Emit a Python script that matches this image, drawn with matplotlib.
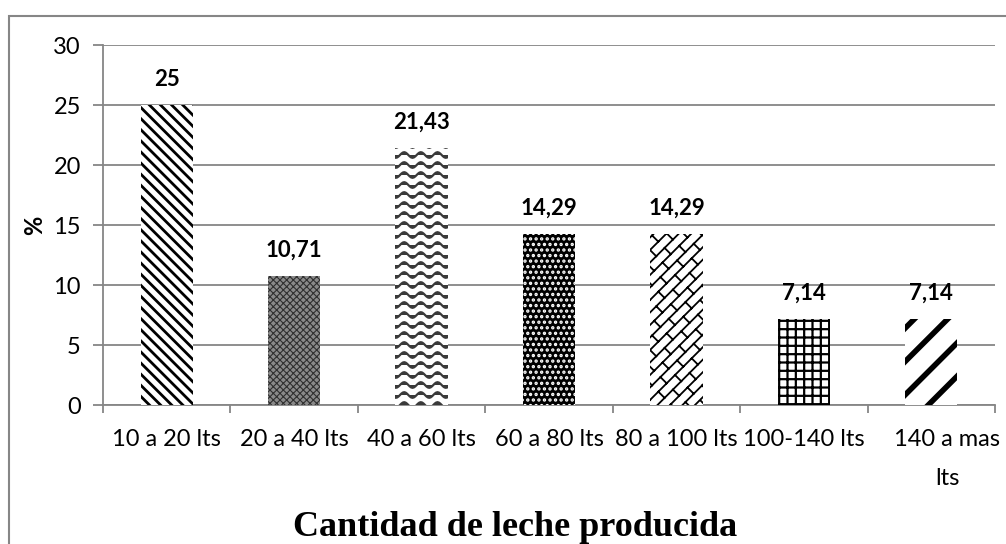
import warnings
import numpy as np
import matplotlib
matplotlib.use('Agg')
import matplotlib.pyplot as plt
import matplotlib.hatch as mhatch
from matplotlib.path import Path
from matplotlib.patches import Rectangle
from matplotlib.transforms import ScaledTranslation

warnings.filterwarnings('ignore')

# data
categorias = ['10 a 20 lts', '20 a 40 lts', '40 a 60 lts', '60 a 80 lts',
              '80 a 100 lts', '100-140 lts', '140 a mas\nlts']
porcentaje = [25, 10.71, 21.43, 14.29, 14.29, 7.14, 7.14]
etiquetas = ['25', '10,71', '21,43', '14,29', '14,29', '7,14', '7,14']
yticks = [0, 5, 10, 15, 20, 25, 30]


# extra hatch patterns: '~' wavy lines, 'b' diagonal bricks
class WaveHatch(mhatch.HatchPatternBase):
    def __init__(self, hatch, density):
        self.num_lines = 10 * hatch.count('~')
        self.pts = 73
        self.num_vertices = self.num_lines * self.pts

    def set_vertices_and_codes(self, vertices, codes):
        t = np.linspace(0, 1, self.pts)
        steps, size = np.linspace(0, 1, self.num_lines, False, retstep=True)
        steps += size / 2
        for i, s in enumerate(steps):
            sl = slice(i * self.pts, (i + 1) * self.pts)
            vertices[sl, 0] = t
            vertices[sl, 1] = s + 0.028 * np.sin(2 * np.pi * 6 * t)
            codes[sl] = Path.LINETO
            codes[i * self.pts] = Path.MOVETO


class BrickHatch(mhatch.HatchPatternBase):
    def __init__(self, hatch, density):
        self.n = 8 * hatch.count('b')
        self.p = 3
        if self.n:
            nlong = 2 * self.n + 1
            ncross = 2 * self.n * (2 * self.p + 1)
            self.num_vertices = 2 * (nlong + ncross)
        else:
            self.num_vertices = 0

    def set_vertices_and_codes(self, vertices, codes):
        segs = []
        n, p = self.n, self.p
        for k in range(-n, n + 1):
            u = k / n
            segs.append(((u, -0.5), (u, 2.5)))
        for k in range(-n, n):
            for j in range(2 * p + 1):
                v = (j + 0.5 * (k % 2)) / p
                segs.append(((k / n, v), ((k + 1) / n, v)))
        i = 0
        for (u0, v0), (u1, v1) in segs:
            vertices[i] = ((u0 + v0) / 2, (v0 - u0) / 2)
            vertices[i + 1] = ((u1 + v1) / 2, (v1 - u1) / 2)
            codes[i] = Path.MOVETO
            codes[i + 1] = Path.LINETO
            i += 2


mhatch._hatch_types.append(WaveHatch)
mhatch._hatch_types.append(BrickHatch)

# estilos de cada barra
hatches = ['\\\\\\', 'xxxxx', '~', '...', 'b', '++', '/']
faces = ['white', '#8a8a8a', 'white', 'black', 'white', 'white', 'white']
edges = ['black', '#303030', '#3a3a3a', 'white', 'black', 'black', 'black']
hlw = [2.0, 0.8, 1.6, 1.6, 1.3, 1.6, 4.0]

fig = plt.figure(figsize=(10.06, 5.44), dpi=100)
ax = fig.add_axes([103 / 1006, 1 - 405 / 544, (995 - 103) / 1006, (405 - 45) / 544])

x = np.arange(len(categorias))
bars = ax.bar(x, porcentaje, width=0.41, zorder=3, linewidth=0)
for b, h, fc, ec, lw in zip(bars, hatches, faces, edges, hlw):
    b.set_facecolor(fc)
    b.set_edgecolor(ec)
    b.set_linewidth(0)
    b.set_hatch(h)
    b.set_hatch_linewidth(lw)

for xi, v, t in zip(x, porcentaje, etiquetas):
    ax.annotate(t, (xi, v), xytext=(0, 11), textcoords='offset points',
                ha='center', va='bottom', fontsize=16, fontweight='bold',
                family='Lato')

gris = '#868686'
ax.set_xlim(-0.5, len(categorias) - 0.5)
ax.set_ylim(0, 30)
ax.set_yticks(yticks)
ax.yaxis.grid(True, color=gris, linewidth=1.3, zorder=0)
ax.set_axisbelow(True)
for s in ['top', 'right']:
    ax.spines[s].set_visible(False)
for s in ['left', 'bottom']:
    ax.spines[s].set_color(gris)
    ax.spines[s].set_linewidth(1.3)

ax.set_xticks(x)
ax.set_xticklabels(categorias, fontsize=17, family='Lato', linespacing=2.1)
ax.set_xticks(np.arange(len(categorias) + 1) - 0.5, minor=True)
ax.tick_params(axis='x', which='major', length=0, pad=17)
ax.tick_params(axis='x', which='minor', length=6, color=gris, width=1.3)
ax.tick_params(axis='y', length=7, color=gris, width=1.3, pad=9, labelsize=17)
for lab in ax.get_yticklabels():
    lab.set_family('Lato')

ult = ax.get_xticklabels()[-1]
ult.set_transform(ult.get_transform() + ScaledTranslation(0.16, 0, fig.dpi_scale_trans))

ax.set_ylabel('%', fontsize=17, fontweight='bold', family='Lato', labelpad=5)
ax.set_xlabel('Cantidad de leche producida', fontsize=26, fontweight='bold',
              family='Liberation Serif')
ax.xaxis.set_label_coords(0.462, -0.295)

# borde del grafico
fig.add_artist(Rectangle((9 / 1006, -0.05), 1.2, 1 - 16 / 544 + 0.05,
                         transform=fig.transFigure, fill=False,
                         edgecolor=gris, linewidth=1.5))

fig.savefig('out.png', dpi=100)
